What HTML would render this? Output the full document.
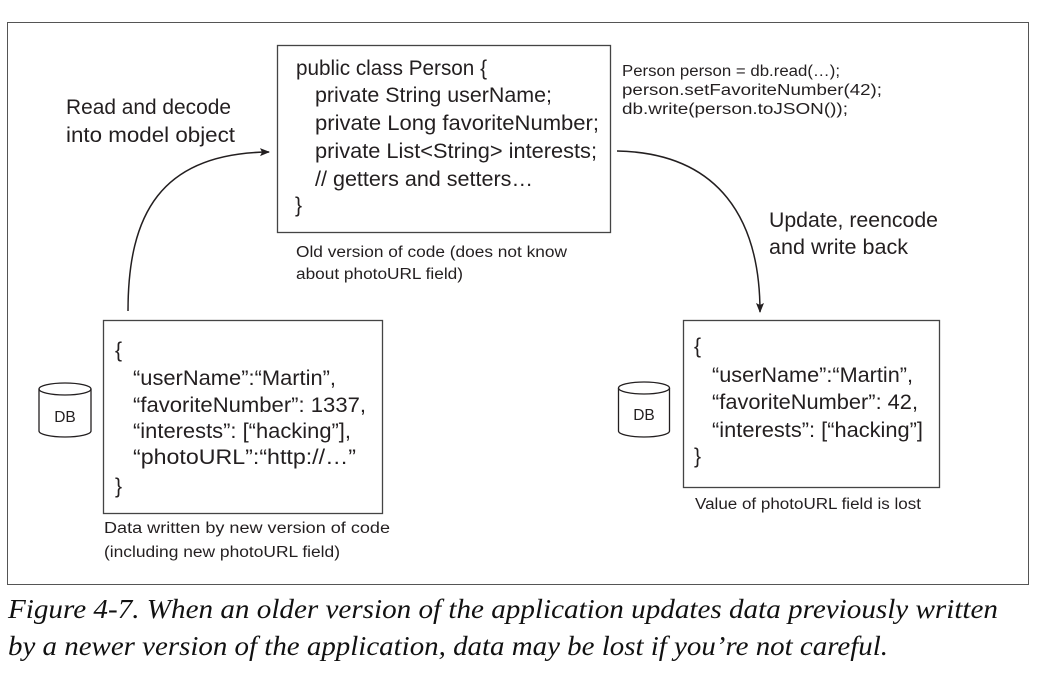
<!DOCTYPE html>
<html><head><meta charset="utf-8"><style>
html,body{margin:0;padding:0;background:#fff;}
svg{display:block;}
text{font-family:"Liberation Sans",sans-serif;fill:#231f20;}
.c{font-size:21px;}
.s{font-size:15.5px;}
.cap{font-family:"Liberation Serif",serif;font-style:italic;font-size:27px;fill:#111;}
</style></head><body>
<svg width="1039" height="679" viewBox="0 0 1039 679" xmlns="http://www.w3.org/2000/svg">
<defs><marker id="ah" markerWidth="10" markerHeight="10" refX="9" refY="5" orient="auto" markerUnits="userSpaceOnUse"><path d="M0,1 L10,5 L0,9 L2,5 Z" fill="#231f20"/></marker></defs>
<rect x="7.5" y="22.5" width="1021" height="562" fill="none" stroke="#555" stroke-width="1"/>
<!-- top box -->
<rect x="277.5" y="45.5" width="333" height="187" fill="none" stroke="#444" stroke-width="1.3"/>
<text class="c" x="296" y="75" textLength="191" lengthAdjust="spacingAndGlyphs">public class Person {</text>
<text class="c" x="315" y="102" textLength="237" lengthAdjust="spacingAndGlyphs">private String userName;</text>
<text class="c" x="315" y="130" textLength="284" lengthAdjust="spacingAndGlyphs">private Long favoriteNumber;</text>
<text class="c" x="315" y="158" textLength="282" lengthAdjust="spacingAndGlyphs">private List&lt;String&gt; interests;</text>
<text class="c" x="315" y="186" textLength="218" lengthAdjust="spacingAndGlyphs">// getters and setters…</text>
<text class="c" x="295" y="212">}</text>
<text class="s" x="296" y="257" textLength="271" lengthAdjust="spacingAndGlyphs">Old version of code (does not know</text>
<text class="s" x="296" y="279" textLength="167" lengthAdjust="spacingAndGlyphs">about photoURL field)</text>
<text class="c" x="66" y="114" textLength="165" lengthAdjust="spacingAndGlyphs">Read and decode</text>
<text class="c" x="66" y="142" textLength="169" lengthAdjust="spacingAndGlyphs">into model object</text>
<!-- right code -->
<text class="s" x="622" y="76" textLength="218" lengthAdjust="spacingAndGlyphs">Person person = db.read(…);</text>
<text class="s" x="622" y="95" textLength="260" lengthAdjust="spacingAndGlyphs">person.setFavoriteNumber(42);</text>
<text class="s" x="622" y="114" textLength="226" lengthAdjust="spacingAndGlyphs">db.write(person.toJSON());</text>
<text class="c" x="769" y="227" textLength="169" lengthAdjust="spacingAndGlyphs">Update, reencode</text>
<text class="c" x="769" y="254" textLength="139" lengthAdjust="spacingAndGlyphs">and write back</text>
<!-- arrows -->
<path d="M128,311 C128,215 160,153 269,152" fill="none" stroke="#231f20" stroke-width="1.5" marker-end="url(#ah)"/>
<path d="M617,151 C720,153 760,220 760,312" fill="none" stroke="#231f20" stroke-width="1.5" marker-end="url(#ah)"/>
<!-- left box -->
<rect x="103.5" y="320.5" width="279" height="193" fill="none" stroke="#444" stroke-width="1.3"/>
<text class="c" x="115" y="357">{</text>
<text class="c" x="133" y="385" textLength="203" lengthAdjust="spacingAndGlyphs">“userName”:“Martin”,</text>
<text class="c" x="133" y="412" textLength="233" lengthAdjust="spacingAndGlyphs">“favoriteNumber”: 1337,</text>
<text class="c" x="133" y="438" textLength="218" lengthAdjust="spacingAndGlyphs">“interests”: [“hacking”],</text>
<text class="c" x="133" y="464" textLength="223" lengthAdjust="spacingAndGlyphs">“photoURL”:“http://…”</text>
<text class="c" x="115" y="493">}</text>
<text class="s" x="104" y="533" textLength="286" lengthAdjust="spacingAndGlyphs">Data written by new version of code</text>
<text class="s" x="104" y="557" textLength="236" lengthAdjust="spacingAndGlyphs">(including new photoURL field)</text>
<!-- right box -->
<rect x="683.5" y="320.5" width="256" height="167" fill="none" stroke="#444" stroke-width="1.3"/>
<text class="c" x="694" y="353">{</text>
<text class="c" x="712" y="382" textLength="201" lengthAdjust="spacingAndGlyphs">“userName”:“Martin”,</text>
<text class="c" x="712" y="409" textLength="206" lengthAdjust="spacingAndGlyphs">“favoriteNumber”: 42,</text>
<text class="c" x="712" y="437" textLength="211" lengthAdjust="spacingAndGlyphs">“interests”: [“hacking”]</text>
<text class="c" x="694" y="463">}</text>
<text class="s" x="695" y="509" textLength="226" lengthAdjust="spacingAndGlyphs">Value of photoURL field is lost</text>
<!-- DB cylinders -->
<g fill="none" stroke="#231f20" stroke-width="1.3">
<ellipse cx="65" cy="389" rx="26" ry="6"/>
<path d="M39,389 V431 A26,6 0 0 0 91,431 V389"/>
<ellipse cx="644" cy="388" rx="25.5" ry="6"/>
<path d="M618.5,388 V431 A25.5,6 0 0 0 669.5,431 V388"/>
</g>
<text class="s" x="65" y="422" text-anchor="middle">DB</text>
<text class="s" x="644" y="420" text-anchor="middle">DB</text>
<!-- caption -->
<text class="cap" x="8" y="618" textLength="990" lengthAdjust="spacingAndGlyphs">Figure 4-7. When an older version of the application updates data previously written</text>
<text class="cap" x="8" y="655" textLength="880" lengthAdjust="spacingAndGlyphs">by a newer version of the application, data may be lost if you’re not careful.</text>
</svg>
</body></html>
